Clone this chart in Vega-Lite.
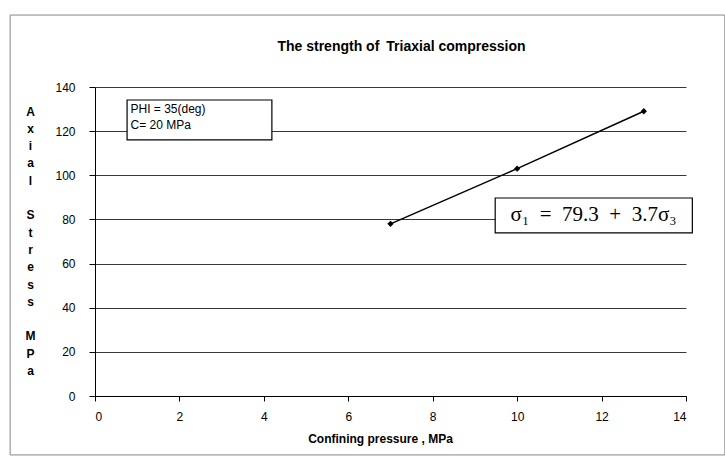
{
  "$schema": "https://vega.github.io/schema/vega-lite/v6.json",
  "width": 591,
  "height": 309,
  "autosize": {"type": "none"},
  "padding": {"left": 95, "top": 87, "right": 39, "bottom": 63},
  "background": "white",
  "config": {"view": {"stroke": null}, "font": "Liberation Sans"},
  "title": {
    "text": "The strength of\u2002Triaxial compression",
    "fontSize": 14,
    "fontWeight": "bold",
    "font": "Liberation Sans",
    "color": "black",
    "frame": "group",
    "offset": -39,
    "dx": 11
  },
  "datasets": {
    "points": [
      {"pressure": 7, "stress": 78},
      {"pressure": 10, "stress": 103},
      {"pressure": 13, "stress": 129}
    ],
    "frame": [{"x1": -2.01, "x2": 14.92, "y1": 172.6, "y2": -26.7}],
    "boxes": [
      {"name": "params", "x1": 0.76, "x2": 4.19, "y1": 134.1, "y2": 116.0},
      {"name": "equation", "x1": 9.48, "x2": 14.15, "y1": 89.7, "y2": 73.9}
    ],
    "paramText": [
      {"x": 0.84, "y": 130.0, "label": "PHI = 35(deg)"},
      {"x": 0.84, "y": 122.8, "label": "C= 20 MPa"}
    ],
    "eqText": [
      {"x": 11.81, "y": 81.8, "label": "σ₁\u2002=\u200279.3\u2002+\u20023.7σ₃"}
    ]
  },
  "layer": [
    {
      "data": {"name": "frame"},
      "mark": {"type": "rect", "fill": null, "stroke": "#888888", "strokeWidth": 1},
      "encoding": {
        "x": {"field": "x1", "type": "quantitative", "scale": {"domain": [0, 14], "nice": false, "zero": false},
          "axis": {
            "values": [0, 2, 4, 6, 8, 10, 12, 14],
            "grid": false,
            "domainColor": "black",
            "tickColor": "black",
            "tickSize": 5,
            "labelPadding": 10,
            "labelFontSize": 12,
            "labelColor": "black",
            "labelFont": "Liberation Sans",
            "title": "Confining pressure , MPa",
            "titleFontSize": 12,
            "titleFontWeight": "bold",
            "titleColor": "black",
            "titlePadding": 11,
            "titleX": 285
          }
        },
        "x2": {"field": "x2"},
        "y": {"field": "y1", "type": "quantitative", "scale": {"domain": [0, 140], "nice": false, "zero": false},
          "axis": {
            "values": [0, 20, 40, 60, 80, 100, 120, 140],
            "grid": true,
            "gridColor": "#222222",
            "gridWidth": 1,
            "gridOpacity": 0.9,
            "domainColor": "black",
            "tickColor": "black",
            "tickSize": 6,
            "labelPadding": 14,
            "labelFontSize": 12,
            "labelColor": "black",
            "labelFont": "Liberation Sans",
            "title": ["A", "x", "i", "a", "l", "\u2800", "S", "t", "r", "e", "s", "s", "\u2800", "M", "P", "a"],
            "titleAngle": 0,
            "titleAlign": "center",
            "titleBaseline": "alphabetic",
            "titleX": -65,
            "titleY": 28,
            "titleLineHeight": 17.3,
            "titleFontSize": 12,
            "titleFontWeight": "bold",
            "titleColor": "black"
          }
        },
        "y2": {"field": "y2"}
      }
    },
    {
      "data": {"name": "boxes"},
      "mark": {"type": "rect", "fill": "white", "stroke": "black", "strokeWidth": 1.2},
      "encoding": {
        "x": {"field": "x1", "type": "quantitative"},
        "x2": {"field": "x2"},
        "y": {"field": "y1", "type": "quantitative"},
        "y2": {"field": "y2"}
      }
    },
    {
      "data": {"name": "paramText"},
      "mark": {"type": "text", "align": "left", "baseline": "middle", "fontSize": 12, "font": "Liberation Sans", "color": "black"},
      "encoding": {
        "x": {"field": "x", "type": "quantitative"},
        "y": {"field": "y", "type": "quantitative"},
        "text": {"field": "label"}
      }
    },
    {
      "data": {"name": "eqText"},
      "mark": {"type": "text", "align": "center", "baseline": "middle", "fontSize": 21, "font": "Liberation Serif", "color": "black"},
      "encoding": {
        "x": {"field": "x", "type": "quantitative"},
        "y": {"field": "y", "type": "quantitative"},
        "text": {"field": "label"}
      }
    },
    {
      "data": {"name": "points"},
      "mark": {"type": "line", "color": "black", "strokeWidth": 1.5, "point": {"shape": "diamond", "filled": true, "color": "black", "size": 40}},
      "encoding": {
        "x": {"field": "pressure", "type": "quantitative"},
        "y": {"field": "stress", "type": "quantitative"}
      }
    }
  ]
}
